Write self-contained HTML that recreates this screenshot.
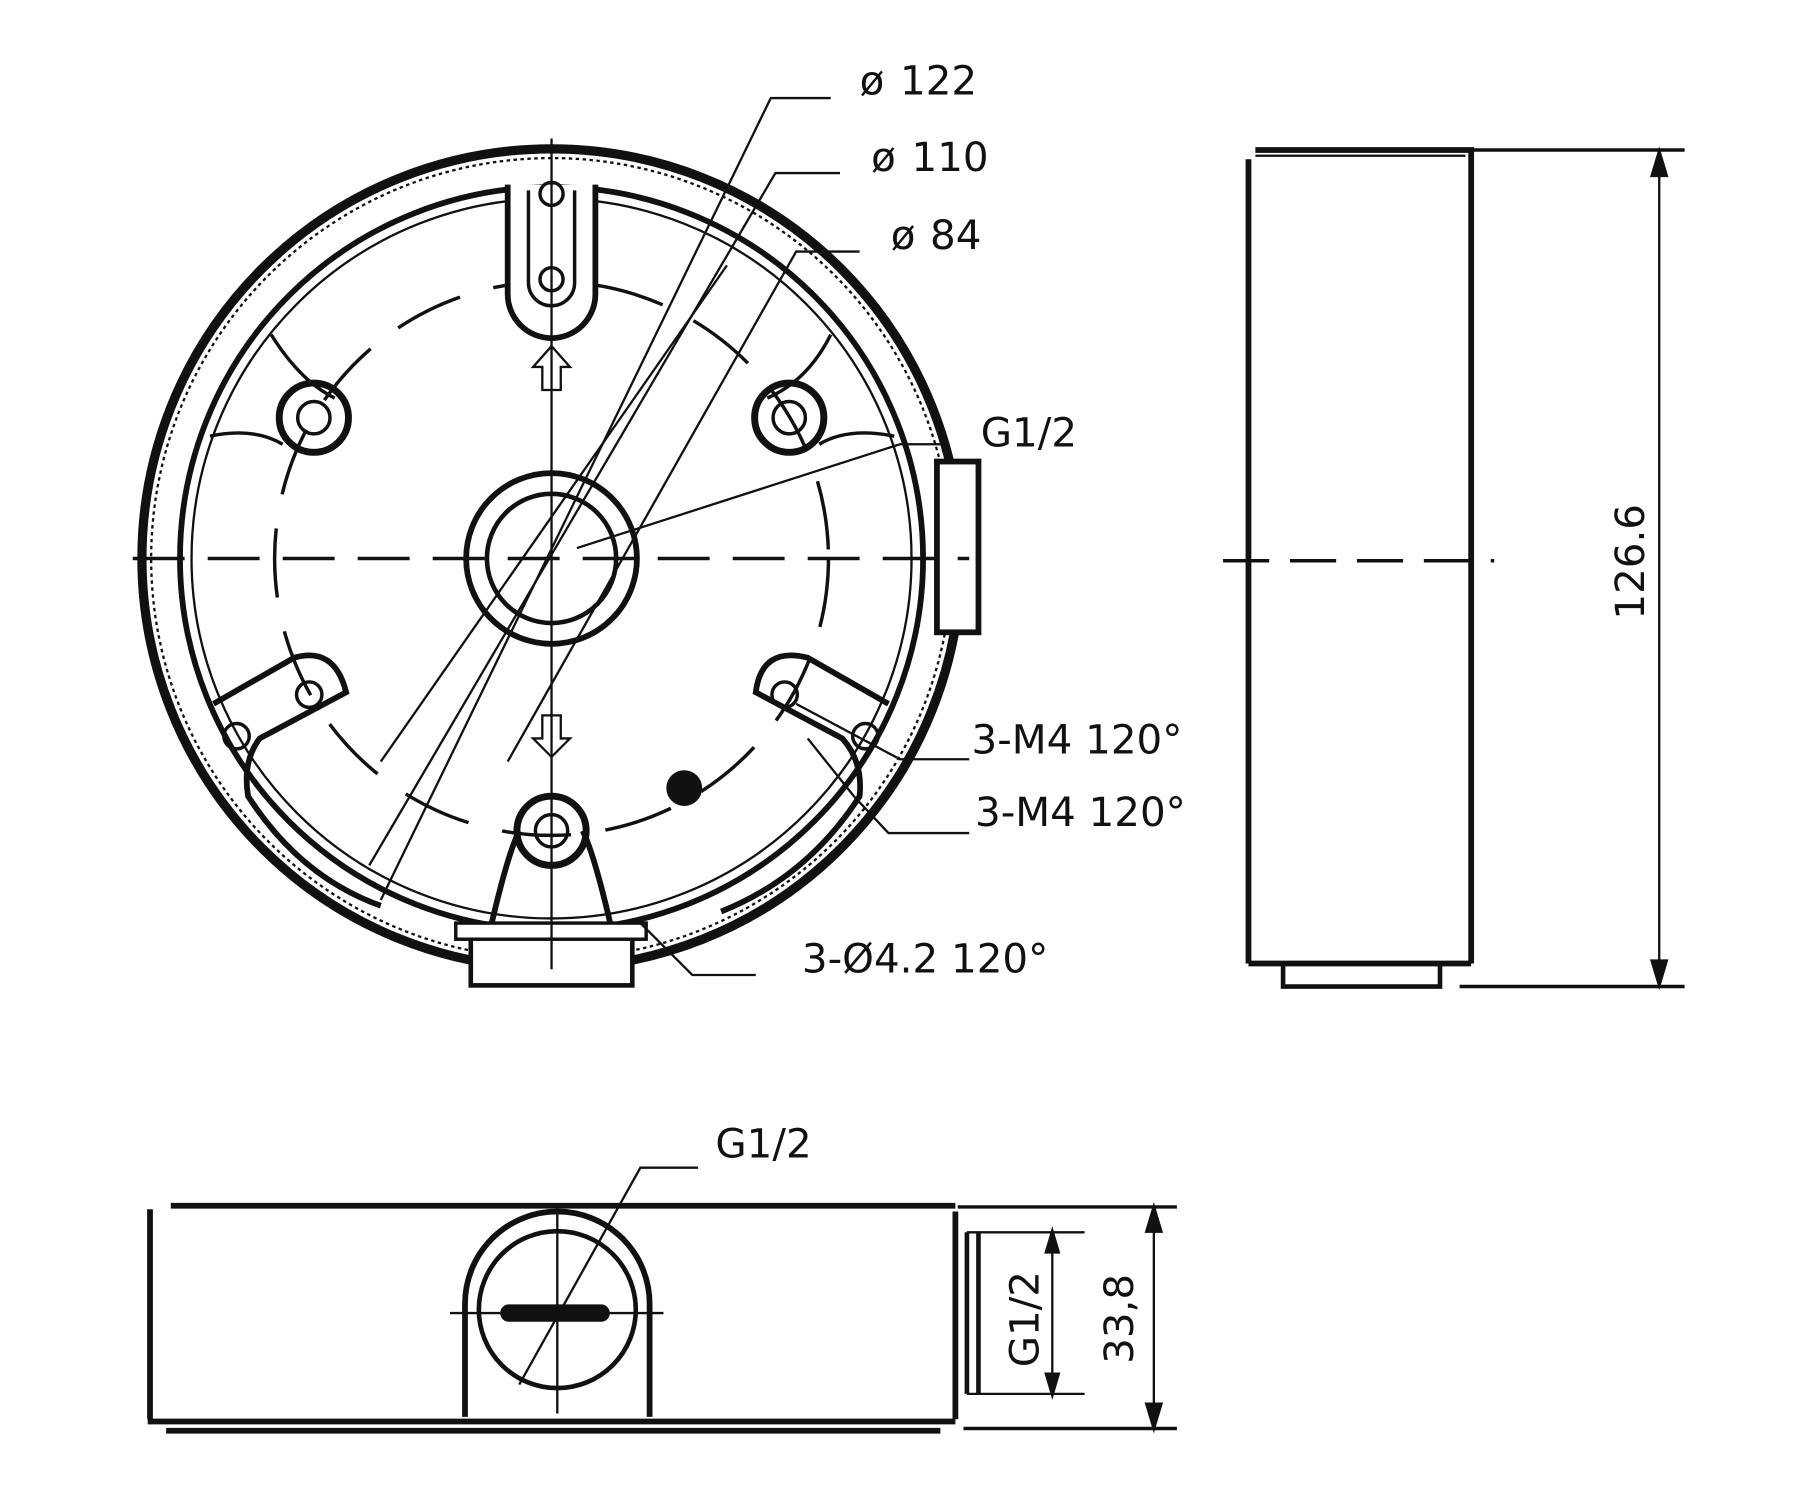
<!DOCTYPE html>
<html><head><meta charset="utf-8"><style>html,body{margin:0;padding:0;background:#fff}svg{display:block}text{font-family:"DejaVu Sans","Liberation Sans",sans-serif;fill:#111}</style></head>
<body>
<svg width="1800" height="1500" viewBox="0 0 1560 1300" xmlns="http://www.w3.org/2000/svg">
<rect width="1560" height="1300" fill="#fff"/>
<g fill="none" stroke="#111" stroke-width="3">
<!-- front view -->
<circle cx="478" cy="484" r="355" stroke-width="8"/>
<circle cx="478" cy="484" r="347" stroke-width="2" stroke-dasharray="3 3"/>
<circle cx="478" cy="484" r="322" stroke-width="5"/>
<circle cx="478" cy="484" r="312" stroke-width="2"/>
<circle cx="478" cy="484" r="240" stroke-width="3" stroke-dasharray="60 30"/>
<circle cx="478" cy="484" r="74" stroke-width="5"/>
<circle cx="478" cy="484" r="56" stroke-width="4"/>
<!-- top slot -->
<path d="M440 160 V255 a38 38 0 0 0 76 0 V160" stroke-width="5" fill="#fff"/>
<path d="M458 165 V245 a20 20 0 0 0 40 0 V165" stroke-width="3"/>
<circle cx="478" cy="168" r="10"/><circle cx="478" cy="242" r="10"/>
<!-- bosses -->
<circle cx="272" cy="362" r="30" stroke-width="6"/><circle cx="272" cy="362" r="14"/>
<circle cx="684" cy="362" r="30" stroke-width="6"/><circle cx="684" cy="362" r="14"/>
<path d="M235 290 Q260 330 290 345 M182 378 Q220 370 245 385"/>
<path d="M720 290 Q700 330 665 345 M775 378 Q735 370 710 385"/>
<!-- bottom slots -->
<path d="M185 610 L255 570 Q290 560 300 600 L225 640 Q210 660 215 690 Q260 760 330 785" stroke-width="5"/>
<path d="M770 610 L700 570 Q660 560 655 600 L730 640 Q748 660 745 690 Q700 760 625 790" stroke-width="5"/>
<circle cx="268" cy="602" r="11"/><circle cx="205" cy="638" r="11"/>
<circle cx="680" cy="602" r="11"/><circle cx="750" cy="638" r="11"/>
<circle cx="593" cy="683" r="14" fill="#111"/>
<!-- bottom boss -->
<path d="M425 805 Q440 740 450 720 M530 805 Q515 740 505 720" stroke-width="5"/>
<circle cx="478" cy="720" r="30" stroke-width="6"/><circle cx="478" cy="720" r="14"/>
<rect x="408" y="812" width="140" height="42" stroke-width="4" fill="#fff"/>
<rect x="395" y="800" width="165" height="14" stroke-width="3" fill="#fff"/>
<!-- right G1/2 side -->
<rect x="812" y="400" width="36" height="148" stroke-width="5" fill="#fff"/>
<!-- arrows -->
<path d="M470 338 V318 H462 L478 300 L494 318 H486 V338 Z" stroke-width="2" fill="#fff"/>
<path d="M470 620 V640 H462 L478 656 L494 640 H486 V620 Z" stroke-width="2" fill="#fff"/>
<!-- centerlines -->
<path d="M115 484 H840" stroke-width="3" stroke-dasharray="45 20"/>
<path d="M478 120 V840" stroke-width="2"/>
<!-- leader lines -->
<path d="M720 85 H668 L330 780" stroke-width="2"/>
<path d="M728 150 H672 L320 750" stroke-width="2"/>
<path d="M745 218 H690 L440 660" stroke-width="2"/>
<path d="M820 385 H780 L500 475" stroke-width="2"/>
<path d="M630 230 L330 660" stroke-width="2"/>
<path d="M840 658 H780 L690 610" stroke-width="2"/>
<path d="M840 722 H770 L740 690 L700 640" stroke-width="2"/>
<path d="M655 845 H600 L555 800" stroke-width="2"/>
<!-- side view -->
<path d="M1082 138 V835 M1088 130 H1275 V835 M1082 835 H1275" stroke-width="5"/>
<path d="M1088 135 H1270" stroke-width="2"/>
<rect x="1112" y="835" width="136" height="20" stroke-width="4"/>
<path d="M1060 486 H1295" stroke-width="3" stroke-dasharray="40 18"/>
<path d="M1275 130 H1460 M1265 855 H1460" stroke-width="3"/>
<path d="M1438 134 V852" stroke-width="2"/>
<path d="M1438 132 L1432 152 L1444 152 Z M1438 853 L1432 833 L1444 833 Z" fill="#111"/>
<!-- bottom view -->
<path d="M130 1048 V1230 M148 1045 H828 M128 1232 H828 M144 1240 H815 M828 1050 V1230" stroke-width="5"/>
<path d="M403 1228 V1130 A80 80 0 0 1 563 1130 V1228" stroke-width="5"/>
<circle cx="483" cy="1135" r="68" stroke-width="4"/>
<path d="M390 1138 H575 M483 1045 V1225" stroke-width="2"/>
<rect x="435" y="1132" width="92" height="12" rx="6" fill="#111"/>
<path d="M605 1012 H555 L450 1200" stroke-width="2"/>
<path d="M838 1068 V1208 M848 1068 V1208" stroke-width="4"/>
<path d="M838 1068 H940 M838 1208 H940" stroke-width="2"/>
<path d="M912 1070 V1206" stroke-width="2"/>
<path d="M912 1068 L907 1085 L917 1085 Z M912 1208 L907 1191 L917 1191 Z" fill="#111"/>
<path d="M830 1046 H1020 M835 1238 H1020" stroke-width="3"/>
<path d="M1000 1048 V1236" stroke-width="2"/>
<path d="M1000 1047 L994 1067 L1006 1067 Z M1000 1237 L994 1217 L1006 1217 Z" fill="#111"/>
</g>
<g font-size="35">
<text x="745" y="82">ø</text><text x="780" y="82">122</text>
<text x="755" y="148">ø</text><text x="790" y="148">110</text>
<text x="772" y="216">ø</text><text x="806" y="216">84</text>
<text x="850" y="387">G1/2</text>
<text x="842" y="653">3-M4 120°</text>
<text x="845" y="716">3-M4 120°</text>
<text x="695" y="843">3-Ø4.2 120°</text>
<text x="620" y="1003">G1/2</text>
<text transform="translate(1425,537) rotate(-90)">126.6</text>
<text transform="translate(900,1185) rotate(-90)">G1/2</text>
<text transform="translate(982,1182) rotate(-90)">33,8</text>
</g>
</svg>
</body></html>
